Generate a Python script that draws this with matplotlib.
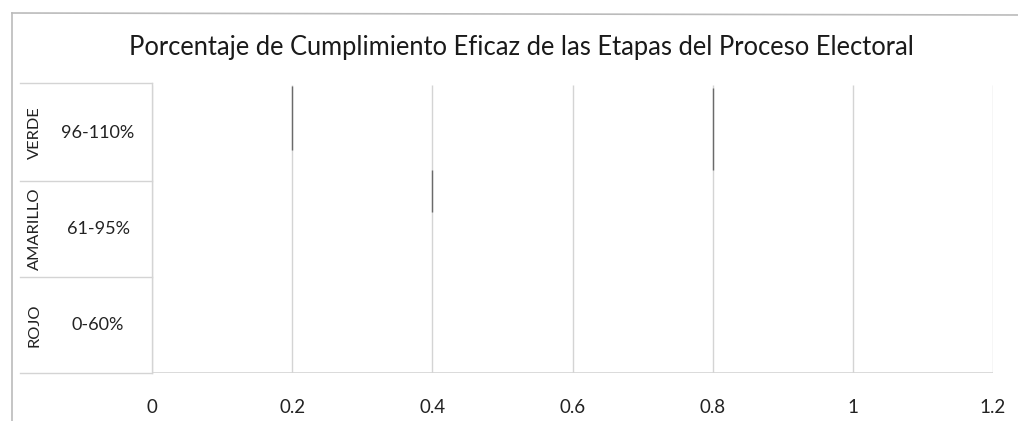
import matplotlib

matplotlib.use("Agg")

import matplotlib.pyplot as plt
from matplotlib.lines import Line2D

plt.rcParams['font.family'] = ['Lato', 'DejaVu Sans']

title = 'Porcentaje de Cumplimiento Eficaz de las Etapas del Proceso Electoral'
x_ticks = [0, 0.2, 0.4, 0.6, 0.8, 1, 1.2]
x_tick_labels = ['0', '0.2', '0.4', '0.6', '0.8', '1', '1.2']

# rows of the left "table", bottom to top
levels = ['ROJO', 'AMARILLO', 'VERDE']
ranges = ['0-60%', '61-95%', '96-110%']

# darker pieces on some gridlines (as seen in the scan)
dark_x = [0.2, 0.4, 0.8]
dark_top = [2.99, 2.11, 2.97]
dark_bottom = [2.32, 1.68, 2.11]

fig = plt.figure(figsize=(10.18, 4.21), dpi=100)
ax = fig.add_axes([152 / 1018, 1 - 373 / 421, (993 - 152) / 1018, (373 - 85) / 421])

ax.set_xlim(0, 1.2)
ax.set_ylim(0, 3)
for s in ax.spines.values():
    s.set_visible(False)

grid_c = '#d4d4d4'
ax.vlines(x_ticks, 0, 3, colors=grid_c, linewidth=1.0)
ax.vlines(dark_x, dark_bottom, dark_top, colors='#6a6a6a', linewidth=1.0)

ax.set_xticks(x_ticks)
ax.set_xticklabels(x_tick_labels, fontsize=13.5, color='#222222')
ax.tick_params(axis='x', length=0, pad=19)
ax.set_yticks([])

# table on the left, in axes coordinates
tr = ax.get_yaxis_transform()
x_left = (20 - 152) / (993 - 152)
for yy in [1, 2, 3 + 2 / 96]:
    ax.add_line(Line2D([x_left, 0], [yy, yy], transform=tr, color=grid_c, lw=1.0, clip_on=False))
ax.add_line(Line2D([x_left, 0], [0, 0], transform=tr, color=grid_c, lw=1.0, clip_on=False))
ax.axhline(0, color=grid_c, lw=1.2)
ax.add_line(Line2D([0, 0], [0, 3 + 2 / 96], transform=tr, color=grid_c, lw=1.0, clip_on=False))

lab_x = (35 - 152) / (993 - 152)
rng_x = (98 - 152) / (993 - 152)
for i, (lv, rg) in enumerate(zip(levels, ranges)):
    ax.text(lab_x, i + 0.5, lv, transform=tr, rotation=90, ha='center', va='center',
            fontsize=11.8, color='#222222')
    ax.text(rng_x, i + 0.5, rg, transform=tr, ha='center', va='center',
            fontsize=13, color='#222222')

fig.text(521 / 1018, 1 - 47 / 421, title, ha='center', va='center', fontsize=18.4, color='#1a1a1a')

# outer frame (left and top edges visible in the scan)
fig.add_artist(Line2D([12 / 1018, 12 / 1018], [0, 1 - 13 / 421], transform=fig.transFigure,
                      color='#bbbbbb', lw=1.2))
fig.add_artist(Line2D([12 / 1018, 1], [1 - 13 / 421, 1 - 15 / 421], transform=fig.transFigure,
                      color='#bbbbbb', lw=1.2))

fig.savefig('out.png', dpi=100)
